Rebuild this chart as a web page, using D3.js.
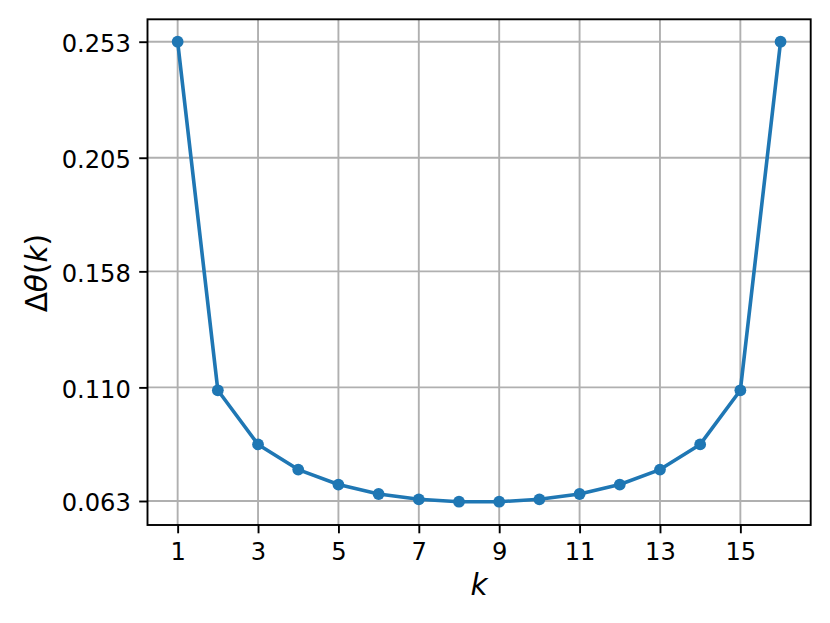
<!DOCTYPE html>
<html><head><meta charset="utf-8">
<script src="https://cdn.jsdelivr.net/npm/d3@7"></script>
<style>body{margin:0;background:#fff}svg{display:block}text{font-family:"DejaVu Sans",sans-serif}</style>
</head><body>
<svg id="c" width="830" height="623"></svg>
<script>
const ks = [1,2,3,4,5,6,7,8,9,10,11,12,13,14,15,16];
const dtheta = [0.2530,0.1088,0.0864,0.0760,0.0698,0.0659,0.0637,0.0627,0.0627,0.0637,0.0659,0.0698,0.0760,0.0864,0.1088,0.2530];
const xTicks = [1,3,5,7,9,11,13,15];
const yTicks = [0.063,0.110,0.158,0.205,0.253];

const svg = d3.select("#c");
const L=147.5,R=810.7,T=19.3,B=525;
const x = d3.scaleLinear().domain([0.25,16.75]).range([L,R]);
const y = d3.scaleLinear().domain([0.05307,0.26227]).range([B,T]);

const g = svg.append("g");
// grid
g.selectAll(".gx").data(xTicks).enter().append("line")
 .attr("x1",d=>x(d)).attr("x2",d=>x(d)).attr("y1",T).attr("y2",B)
 .attr("stroke","#b0b0b0").attr("stroke-width",1.9);
g.selectAll(".gy").data(yTicks).enter().append("line")
 .attr("y1",d=>y(d)).attr("y2",d=>y(d)).attr("x1",L).attr("x2",R)
 .attr("stroke","#b0b0b0").attr("stroke-width",1.9);

// line
const line = d3.line().x((d,i)=>x(ks[i])).y(d=>y(d));
g.append("path").datum(dtheta).attr("d",line).attr("fill","none")
 .attr("stroke","#1f77b4").attr("stroke-width",3.6).attr("stroke-linejoin","round").attr("stroke-linecap","square");
g.selectAll(".pt").data(dtheta).enter().append("circle")
 .attr("cx",(d,i)=>x(ks[i])).attr("cy",d=>y(d)).attr("r",5.9).attr("fill","#1f77b4");

// axes
const xa = d3.axisBottom(x).tickValues(xTicks).tickSize(8.3).tickPadding(8.3).tickFormat(d3.format("d"));
const ya = d3.axisLeft(y).tickValues(yTicks).tickSize(8.3).tickPadding(8.3).tickFormat(d3.format(".3f"));
const gx = svg.append("g").attr("transform",`translate(0,${B})`).call(xa);
const gy = svg.append("g").attr("transform",`translate(${L},0)`).call(ya);
[gx,gy].forEach(a=>{
  a.select(".domain").remove();
  a.selectAll(".tick line").attr("stroke","#000").attr("stroke-width",1.9);
  a.selectAll(".tick text").attr("font-size",24.2).attr("fill","#000").attr("font-family","DejaVu Sans");
});
gx.selectAll(".tick text").attr("dy","0.77em");
gy.selectAll(".tick text").attr("dy","0.40em");
svg.append("rect").attr("x",L).attr("y",T).attr("width",R-L).attr("height",B-T)
 .attr("fill","none").attr("stroke","#000").attr("stroke-width",1.9);

// labels
svg.append("text").attr("x",(L+R)/2).attr("y",595).attr("text-anchor","middle")
 .attr("font-size",29.5).attr("font-style","italic").text("k");
const yl = svg.append("text").attr("transform",`translate(46.5,${(T+B)/2+1}) rotate(-90)`)
 .attr("text-anchor","middle").attr("font-size",29.5);
yl.append("tspan").text("Δ");
yl.append("tspan").attr("font-style","italic").text("θ");
yl.append("tspan").text("(");
yl.append("tspan").attr("font-style","italic").text("k");
yl.append("tspan").text(")");
</script>
</body></html>
